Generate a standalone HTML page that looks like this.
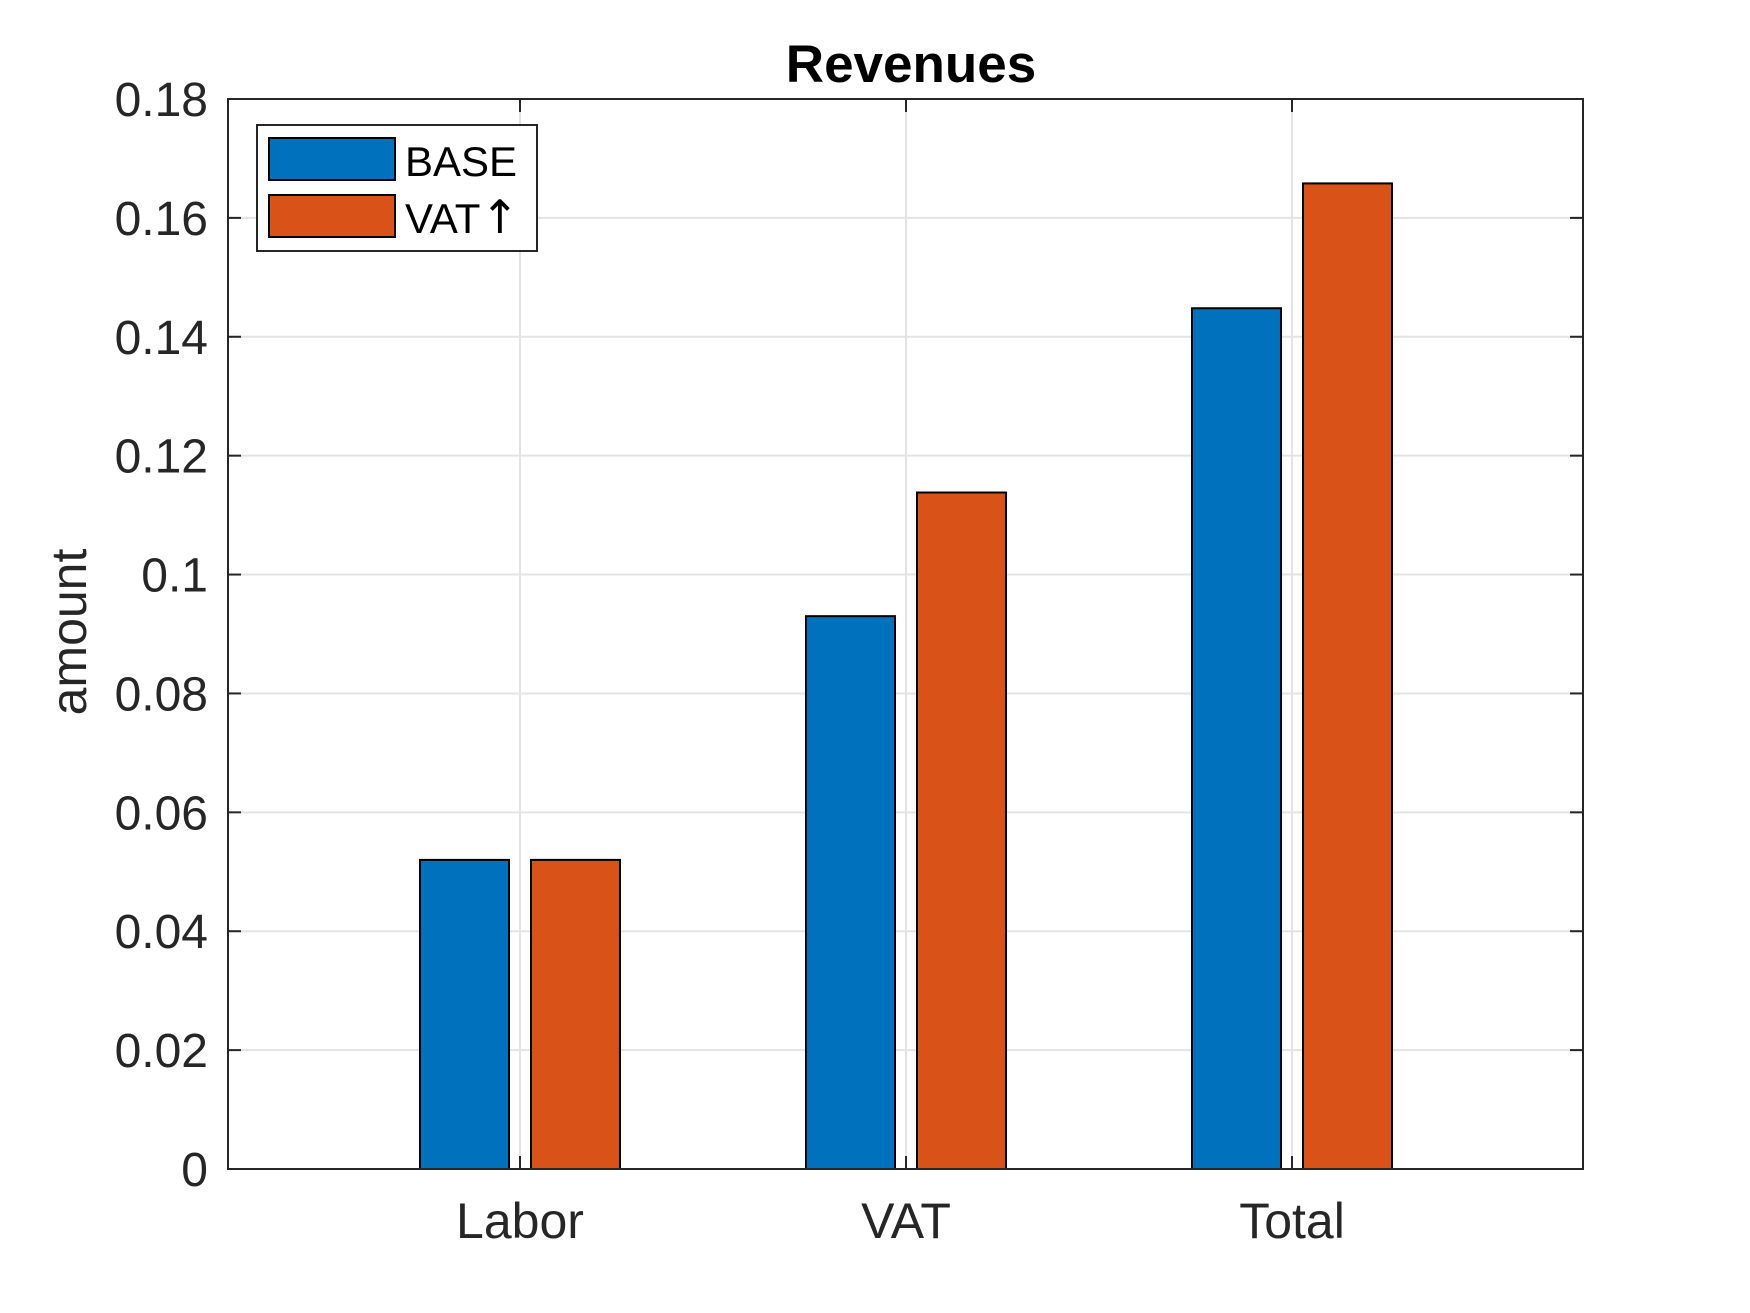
<!DOCTYPE html>
<html><head><meta charset="utf-8"><style>
html,body{margin:0;padding:0;background:#fff;}
svg{display:block;font-family:"Liberation Sans",Arial,sans-serif;}
</style></head><body>
<svg id="chart" width="1750" height="1313" viewBox="0 0 1750 1313">
<rect width="1750" height="1313" fill="#fff"/>
<g id="grid"></g>
<g id="bars"></g>
<rect x="228" y="99" width="1355" height="1070" fill="none" stroke="#262626" stroke-width="2"/>
<g id="ticks"></g>
<text x="911" y="82" text-anchor="middle" font-size="53" font-weight="bold" fill="#000">Revenues</text>
<text transform="translate(86,632) rotate(-90)" text-anchor="middle" font-size="50" fill="#262626">amount</text>
<g>
<rect x="257" y="125" width="280" height="126" fill="#fff" stroke="#262626" stroke-width="2"/>
<rect x="269" y="138" width="126" height="42" fill="#0072BD" stroke="#000" stroke-width="2"/>
<text x="405" y="176" font-size="42" fill="#000">BASE</text>
<rect x="269" y="195" width="126" height="42" fill="#D95319" stroke="#000" stroke-width="2"/>
<text x="405" y="233" font-size="42" fill="#000">VAT<tspan font-family="DejaVu Sans, sans-serif" font-size="46">↑</tspan></text>
</g>
</svg>
<script>
const categories = ["Labor", "VAT", "Total"];
const baseValues = [0.052, 0.093, 0.1448];
const vatValues = [0.052, 0.1138, 0.1658];
const yTicks = [0, 0.02, 0.04, 0.06, 0.08, 0.1, 0.12, 0.14, 0.16, 0.18];
const yTickLabels = ["0", "0.02", "0.04", "0.06", "0.08", "0.1", "0.12", "0.14", "0.16", "0.18"];

const NS = "http://www.w3.org/2000/svg";
const L = 228, R = 1583, T = 99, B = 1169;
const yMax = 0.18;
function y(v){ return B - v / yMax * (B - T); }
function x(i){ return 520 + i * 386; }
const barW = 89, off = 55.5;
function mk(tag, attrs, parent){
  const e = document.createElementNS(NS, tag);
  for (const k in attrs) e.setAttribute(k, attrs[k]);
  parent.appendChild(e);
  return e;
}
const grid = document.getElementById('grid');
const ticks = document.getElementById('ticks');
const bars = document.getElementById('bars');

yTicks.forEach((v, i) => {
  const yy = y(v);
  if (i > 0 && i < yTicks.length - 1) {
    const g = mk('line', {x1: L, x2: R, y1: yy, y2: yy, stroke: '#e3e3e3', 'stroke-width': 2}, grid);
    
    
  }
  const t1 = mk('line', {x1: L, x2: L + 13, y1: yy, y2: yy, stroke: '#262626', 'stroke-width': 2}, ticks);
  
  
  const t2 = mk('line', {x1: R - 13, x2: R, y1: yy, y2: yy, stroke: '#262626', 'stroke-width': 2}, ticks);
  
  
  const lb = mk('text', {x: 208, y: yy + 17, 'text-anchor': 'end', 'font-size': 48, fill: '#262626'}, ticks);
  lb.textContent = yTickLabels[i];
  
  
});

categories.forEach((c, i) => {
  const xx = x(i);
  const g = mk('line', {x1: xx, x2: xx, y1: T, y2: B, stroke: '#e3e3e3', 'stroke-width': 2}, grid);
  
  
  const t1 = mk('line', {x1: xx, x2: xx, y1: B - 13, y2: B, stroke: '#262626', 'stroke-width': 2}, ticks);
  
  
  const t2 = mk('line', {x1: xx, x2: xx, y1: T, y2: T + 13, stroke: '#262626', 'stroke-width': 2}, ticks);
  
  
  const lb = mk('text', {x: xx, y: 1238, 'text-anchor': 'middle', 'font-size': 50, fill: '#262626'}, ticks);
  lb.textContent = c;
  
  

  const b1 = mk('rect', {x: xx - off - barW / 2, y: y(baseValues[i]), width: barW, height: B - y(baseValues[i]), fill: '#0072BD', stroke: '#000', 'stroke-width': 2}, bars);
  
  
  const b2 = mk('rect', {x: xx + off - barW / 2, y: y(vatValues[i]), width: barW, height: B - y(vatValues[i]), fill: '#D95319', stroke: '#000', 'stroke-width': 2}, bars);
  
  
});
</script>
</body></html>
